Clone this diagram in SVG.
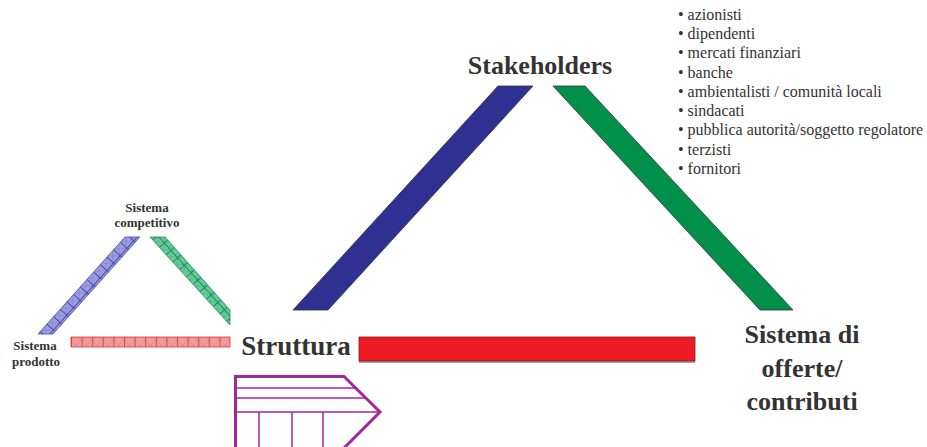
<svg xmlns="http://www.w3.org/2000/svg" width="927" height="447" viewBox="0 0 927 447">
<defs>
<style>
.lbl{font-family:"Liberation Serif","Times New Roman",serif;font-weight:bold;fill:#333333;text-anchor:middle}
.big{font-size:26px}
.small{font-size:13px}
.list{font-family:"Liberation Serif","Times New Roman",serif;font-size:16px;fill:#333333}
.band{stroke:#333333;stroke-width:0.8}
.purple{fill:none;stroke:#a3279b;stroke-linejoin:miter}
</style>
<pattern id="hBlue" patternUnits="userSpaceOnUse" width="10" height="10" patternTransform="rotate(-48)">
<rect width="10" height="10" fill="#9c9ce0"/>
<path d="M0 0L10 10M10 0L0 10" stroke="#7a7ac8" stroke-width="0.6"/>
<path d="M0 0.5H10M0.5 0V10" stroke="#4a4aa8" stroke-width="1"/>
</pattern>
<pattern id="hGreen" patternUnits="userSpaceOnUse" width="10" height="10" patternTransform="rotate(48)">
<rect width="10" height="10" fill="#66cc99"/>
<path d="M0 0L10 10M10 0L0 10" stroke="#44aa77" stroke-width="0.6"/>
<path d="M0 0.5H10M0.5 0V10" stroke="#1f8a55" stroke-width="1"/>
</pattern>
<pattern id="hRed" patternUnits="userSpaceOnUse" width="10.6" height="10" x="71">
<rect width="10.6" height="10" fill="#f29a9a"/>
<path d="M0 0L10.6 10M10.6 0L0 10" stroke="#e57a7a" stroke-width="0.6"/>
<path d="M0.5 0V10" stroke="#d84a4a" stroke-width="1"/>
</pattern>
</defs>

<g id="connectors">
<polygon class="band" points="498,86 533,86 328,310 293,310" fill="#2e3192"/>
<polygon class="band" points="553,86 585,86 793,310 760,310" fill="#00904a"/>
<rect x="359" y="338" width="336" height="25" fill="#a0a0a0"/>
<rect x="359" y="337" width="336" height="24" fill="#ed1c24" stroke="#8a1a1a" stroke-width="0.8"/>
<polygon points="125,237 140,237 53,334 38,334" fill="url(#hBlue)" stroke="#4a4aa8" stroke-width="0.8"/>
<polygon points="150,237 165,237 230,310 230,325" fill="url(#hGreen)" stroke="#1f8a55" stroke-width="0.8"/>
<rect x="71" y="337" width="159" height="10" fill="url(#hRed)" stroke="#c84040" stroke-width="0.8"/>
</g>

<g id="stakeholders">
<text class="lbl big" x="540" y="74">Stakeholders</text>
</g>

<g id="stakeholder-list">
<text class="list" x="678" y="20">• azionisti</text>
<text class="list" x="678" y="39">• dipendenti</text>
<text class="list" x="678" y="58">• mercati finanziari</text>
<text class="list" x="678" y="78">• banche</text>
<text class="list" x="678" y="97">• ambientalisti / comunità locali</text>
<text class="list" x="678" y="116">• sindacati</text>
<text class="list" x="678" y="135">• pubblica autorità/soggetto regolatore</text>
<text class="list" x="678" y="155">• terzisti</text>
<text class="list" x="678" y="174">• fornitori</text>
</g>

<g id="struttura">
<text class="lbl" style="font-size:27px" x="296" y="355">Struttura</text>
</g>

<g id="sistema-offerte">
<text class="lbl big" x="802" y="343">Sistema di</text>
<text class="lbl big" x="802" y="377">offerte/</text>
<text class="lbl big" x="802" y="410">contributi</text>
</g>

<g id="sistema-competitivo">
<text class="lbl small" x="147" y="212">Sistema</text>
<text class="lbl small" x="147" y="227">competitivo</text>
</g>

<g id="sistema-prodotto">
<text class="lbl small" x="35" y="350">Sistema</text>
<text class="lbl small" x="36" y="366">prodotto</text>
</g>

<g id="struttura-icon">
<path class="purple" stroke-width="3" d="M235.5 449V376.5H344L380 412L344 448"/>
<path class="purple" stroke-width="1.5" d="M236 388H356M236 398H366M236 412H380M259 412V449M292 412V449M323 412V449"/>
</g>
</svg>
